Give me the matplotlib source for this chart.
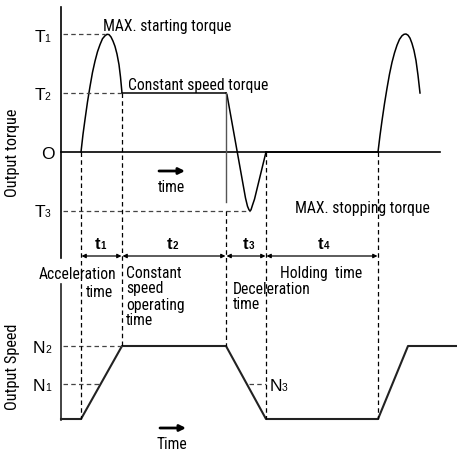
import sys
import matplotlib
matplotlib.use("Agg")
import matplotlib.pyplot as plt
from matplotlib import font_manager as fm
from matplotlib.font_manager import FontProperties
from matplotlib.textpath import TextPath

# ---------------- data (schematic units) ----------------
t_start = 2.0          # start of acceleration
t_acc_end = 6.1        # end of t1
t_dec_start = 16.5     # end of t2
t_dec_end = 20.5       # end of t3
t_hold_end = 31.7      # end of t4
t_acc2_end = 34.7      # second acceleration end (speed)
t_axis_end = 37.9      # end of torque zero line
t_right = 39.6         # right edge

T1, T2, T0, T3 = 2.0, 1.0, 0.0, -1.0     # torque levels
N2, N1, N3 = 1.0, 0.48, 0.48             # speed levels

hump1_t = [2.0, 2.2, 2.4, 2.65, 2.9, 3.15, 3.4, 3.65, 3.9, 4.15, 4.4, 4.6, 4.8, 5.0, 5.2, 5.4, 5.6, 5.8, 5.95, 6.1]
hump1_q = [0.0, 0.30, 0.55, 0.85, 1.11, 1.35, 1.54, 1.70, 1.82, 1.92, 1.97, 1.995, 1.99, 1.95, 1.88, 1.79, 1.66, 1.48, 1.27, 1.0]
const_t = [6.1, 16.5]
const_q = [1.0, 1.0]
dec_t = [16.5, 16.6, 18.45, 18.65, 18.8, 18.9, 19.0, 19.15, 19.35, 20.5]
dec_q = [1.0, 0.97, -0.78, -0.92, -0.98, -1.0, -0.98, -0.90, -0.80, 0.0]
zero_t = [20.5, 31.7]
zero_q = [0.0, 0.0]
hump2_t = [31.7, 31.9, 32.1, 32.35, 32.6, 32.85, 33.1, 33.35, 33.6, 33.85, 34.1, 34.3, 34.5, 34.7, 34.9, 35.1, 35.3, 35.5, 35.7, 35.9]
hump2_q = [0.0, 0.28, 0.53, 0.82, 1.08, 1.32, 1.52, 1.68, 1.81, 1.91, 1.97, 1.995, 2.0, 1.98, 1.93, 1.84, 1.72, 1.55, 1.30, 1.0]

speed_t = [0.0, t_start, t_acc_end, t_dec_start, t_dec_end, t_hold_end, t_acc2_end, t_right]
speed_n = [0.0, 0.0, N2, N2, 0.0, 0.0, N2, N2]

# ---------------- fonts ----------------
def pick_narrow():
    fl = fm.fontManager.ttflist
    def ok(f):
        return f.style == "normal" and f.weight in (400, "normal", "regular", "book")
    prefs = [
        lambda f: "Narrow" in f.name and "Liberation" in f.name,
        lambda f: f.name.startswith("Noto Sans") and "CJK" not in f.name and
                  (f.stretch == "semi-condensed" or "SemiCondensed" in f.fname.replace("-", "")),
        lambda f: f.name == "Roboto Condensed",
        lambda f: f.name.startswith("Noto Sans") and f.stretch == "condensed" and "CJK" not in f.name,
        lambda f: f.name.startswith("DejaVu Sans") and f.stretch in ("condensed", "semi-condensed") and "Mono" not in f.name,
        lambda f: "Condensed" in f.name or "Narrow" in f.name,
    ]
    for p in prefs:
        c = [f for f in fl if ok(f) and p(f)]
        if c:
            return FontProperties(fname=c[0].fname), c[0].name
    return FontProperties(family=["Roboto", "DejaVu Sans"]), "Roboto"

NARROW_FP, NARROW_NAME = pick_narrow()
print("narrow font:", NARROW_NAME, file=sys.stderr)
WIDE = ["Liberation Sans", "DejaVu Sans"]

# ---------------- figure ----------------
W, H, DPI = 457, 452, 100
fig = plt.figure(figsize=(W / DPI, H / DPI), dpi=DPI)
fig.patch.set_facecolor("white")
renderer = fig.canvas.get_renderer()

X0, XS = 61.0, 10.0       # pixel of time 0, pixels per time unit
YQ0, YQS = 153.0, 59.0    # torque zero pixel, pixels per torque unit
YN0, YNS = 420.0, 73.0    # speed zero pixel, pixels per speed unit

xl = (-X0 / XS, (W - X0) / XS)
axq = fig.add_axes([0, 0, 1, 1])
axq.set_xlim(*xl)
axq.set_ylim(-(H - YQ0) / YQS, YQ0 / YQS)
axn = fig.add_axes([0, 0, 1, 1])
axn.set_xlim(*xl)
axn.set_ylim(-(H - YN0) / YNS, YN0 / YNS)
axp = fig.add_axes([0, 0, 1, 1])   # pixel layout axes for labels
axp.set_xlim(0, W)
axp.set_ylim(H, 0)
for a in (axq, axn, axp):
    a.axis("off")
    a.patch.set_alpha(0)

LW = 1.1
DASH = dict(linestyle=(0, (3.6, 2.6)), lw=0.9)

def q2p(q):
    return YQ0 - q * YQS

def n2p(n):
    return YN0 - n * YNS

def t2p(t):
    return X0 + t * XS

# left axis (interrupted by the "Acceleration" label)
axp.plot([61, 61], [8, 259], color="black", lw=1.2)
axp.plot([61, 61], [285, 421], color="#222222", lw=1.2)

axq.plot([0, t_axis_end], [T0, T0], color="black", lw=1.2)
for tt, qq in ((hump1_t, hump1_q), (const_t, const_q), (dec_t, dec_q), (zero_t, zero_q), (hump2_t, hump2_q)):
    axq.plot(tt, qq, color="black", lw=LW, solid_joinstyle="round")

axn.plot(speed_t, speed_n, color="#222222", lw=1.5, solid_joinstyle="round")

axq.plot([0.2, 4.4], [T1, T1], color="#444444", **DASH)
axq.plot([0.2, t_acc_end], [T2, T2], color="#444444", **DASH)
axq.plot([0.2, 18.9], [T3, T3], color="#444444", **DASH)
axq.plot([t_dec_start, t_dec_start], [T2, -0.85], color="#555555", lw=1.0)

axp.plot([t2p(t_start)] * 2, [q2p(0), n2p(0)], color="black", **DASH)
axp.plot([t2p(t_acc_end)] * 2, [q2p(T2), n2p(N2)], color="black", **DASH)
axp.plot([t2p(t_dec_start)] * 2, [q2p(T3), n2p(N2)], color="black", **DASH)
axp.plot([t2p(t_dec_end)] * 2, [q2p(0), n2p(0)], color="black", **DASH)
axp.plot([t2p(t_hold_end)] * 2, [q2p(0), n2p(0)], color="black", **DASH)

axn.plot([0.2, t_acc_end], [N2, N2], color="#444444", **DASH)
axn.plot([0.2, t_start + N1 * (t_acc_end - t_start)], [N1, N1], color="#444444", **DASH)
axn.plot([t_dec_start + (1 - N3) * (t_dec_end - t_dec_start) + 0.25, t_dec_end], [N3, N3], color="#444444", **DASH)

# dimension arrows
YARR = 257
bounds = [t_start, t_acc_end, t_dec_start, t_dec_end, t_hold_end]
for a0, a1 in zip(bounds[:-1], bounds[1:]):
    axp.annotate("", xy=(t2p(a1) - 0.5, YARR), xytext=(t2p(a0) + 0.5, YARR),
                 arrowprops=dict(arrowstyle="<|-|>", color="black", lw=0.9,
                                 mutation_scale=6, shrinkA=0, shrinkB=0))

def width_px(t):
    return t.get_window_extent(renderer=renderer).width

# big letter + small digit labels
def put_idx(x_big, y_base, big, small, fs_big=12.5, fs_small=7.5, weight="normal", gap=0.0):
    tb = axp.text(x_big, y_base, big, fontsize=fs_big, family=WIDE, weight=weight,
                  ha="left", va="baseline", color="black")
    wb = width_px(tb)
    axp.text(x_big + wb + gap, y_base, small, fontsize=fs_small, family=WIDE, weight=weight,
             ha="left", va="baseline", color="black")

put_idx(34.5, 42, "T", "1", gap=-0.5)
put_idx(34.5, 100, "T", "2", gap=-0.5)
axp.text(41, 159, "O", fontsize=12.5, family=WIDE, ha="left", va="baseline")
put_idx(34.5, 217, "T", "3", gap=-0.5)
put_idx(33, 353, "N", "2", gap=-0.5)
put_idx(33, 391, "N", "1", gap=-0.5)
put_idx(270, 391, "N", "3", gap=-0.5)

for xt, d in ((94.5, "1"), (166.5, "2"), (242.5, "3"), (318, "4")):
    put_idx(xt, 249, "t", d, fs_big=12, fs_small=7, weight="bold", gap=0.3)

# ---- narrow annotation texts: size is a compromise of reference width and cap height ----
probe = axp.text(0, 0, "MAX. starting torque", fontproperties=NARROW_FP, fontsize=10)
fs_w = 10 * 129.0 / width_px(probe)
probe.remove()
cap_ratio = TextPath((0, 0), "M", size=100, prop=NARROW_FP).get_extents().height / 100.0
fs_h = 11.0 / (cap_ratio * DPI / 72.0)
FS = (fs_w ** 0.35) * (fs_h ** 0.65)
print("fs_w, fs_h, FS", fs_w, fs_h, FS, file=sys.stderr)

def txt(x, y, s, ha="left", **kw):
    fp = NARROW_FP.copy()
    fp.set_size(kw.pop("fs", FS))
    return axp.text(x, y, s, fontproperties=fp, ha=ha, va="baseline", color="black", **kw)

txt(103, 31, "MAX. starting torque")
txt(128, 90, "Constant speed torque")
txt(295, 213.5, "MAX. stopping torque")
txt(171, 192, "time", ha="center")
axp.annotate("", xy=(185, 172), xytext=(159, 172),
             arrowprops=dict(arrowstyle="-|>", color="black", lw=2.0, mutation_scale=9, shrinkA=0, shrinkB=0))
txt(172, 449, "Time", ha="center")
axp.annotate("", xy=(186, 429), xytext=(160, 429),
             arrowprops=dict(arrowstyle="-|>", color="black", lw=2.0, mutation_scale=9, shrinkA=0, shrinkB=0))

txt(39, 279, "Acceleration")
txt(86, 297, "time")
txt(126, 278, "Constant")
txt(126, 293.5, "speed")
txt(126, 310, "operating")
txt(126, 325.5, "time")
txt(233, 294, "Deceleration")
txt(233, 309.5, "time")
txt(280, 278, "Holding  time")

fp_rot = NARROW_FP.copy()
fp_rot.set_size(FS * 1.04)
axp.text(13, 153, "Output torque", fontproperties=fp_rot, ha="center", va="center", rotation=90)
axp.text(13, 367, "Output Speed", fontproperties=fp_rot, ha="center", va="center", rotation=90)

fig.savefig("out.png", dpi=DPI, facecolor="white")
